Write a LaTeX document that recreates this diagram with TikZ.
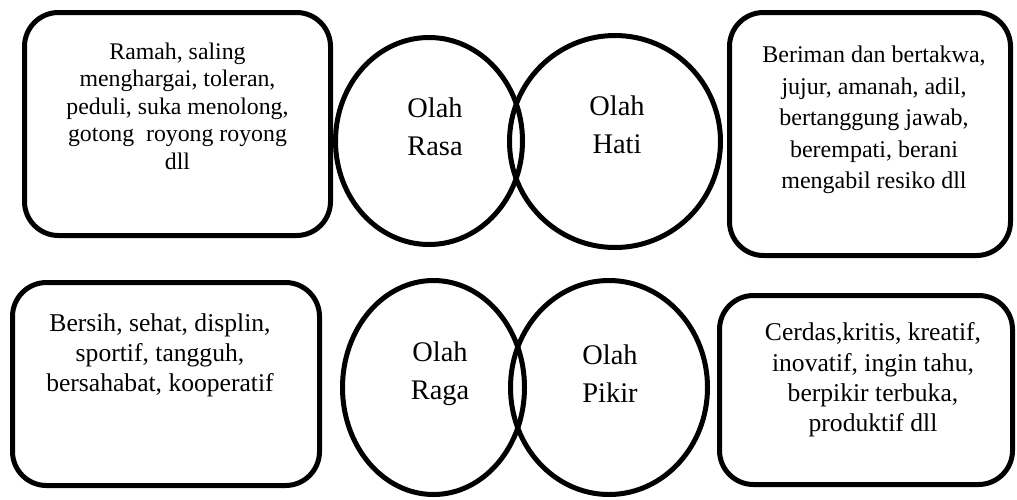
\documentclass[tikz,border=0pt]{standalone}
\usepackage{fontspec}
\setmainfont{Liberation Serif}
\usetikzlibrary{shapes.geometric}
\definecolor{GarisHitam}{HTML}{000000}
\tikzset{
    kotak/.style={draw=GarisHitam, line width=2.5pt, rounded corners=17pt, inner sep=0pt},
    bulat/.style={draw=GarisHitam, line width=2.5pt, ellipse, inner sep=0pt},
    isi/.style={align=center, inner sep=0pt, font=\fontsize{11.9}{13.75}\selectfont},
    isikanan/.style={isi, font=\fontsize{12}{15.8}\selectfont},
    isibawah/.style={isi, font=\fontsize{12.8}{15}\selectfont},
    isibawahkanan/.style={isi, font=\fontsize{12.8}{15.2}\selectfont},
    olah/.style={align=center, inner sep=0pt, font=\fontsize{14.2}{19}\selectfont}
}

\begin{document}
\begin{tikzpicture}[x=0.5pt, y=-0.5pt]
    % =========================================
    % 1. 画布 (Canvas)
    % =========================================
    \useasboundingbox (0,0) rectangle (1017,499);

    % =========================================
    % 2. 方框 (Boxes)
    % =========================================
    \foreach \id/\xa/\ya/\xb/\yb in {rasa/22/10/333/238, hati/727/10/1013/258,
                                     raga/10/280/322/488, pikir/717/293/1015/487} {
        \pgfmathsetmacro{\lebar}{(\xb-\xa-5)*0.5}
        \pgfmathsetmacro{\tinggi}{(\yb-\ya-5)*0.5}
        \node[kotak, minimum width=\lebar pt, minimum height=\tinggi pt]
            (K-\id) at ({(\xa+\xb)/2}, {(\ya+\yb)/2}) {};
    }

    % =========================================
    % 3. 圆圈 (Circles)
    % =========================================
    \foreach \id/\xa/\ya/\xb/\yb in {rasa/333/35/525/247, hati/507/33/723/250,
                                     raga/340/278/527/497, pikir/508/278/710/497} {
        \pgfmathsetmacro{\lebar}{(\xb-\xa-5)*0.5}
        \pgfmathsetmacro{\tinggi}{(\yb-\ya-5)*0.5}
        \node[bulat, minimum width=\lebar pt, minimum height=\tinggi pt]
            (O-\id) at ({(\xa+\xb)/2}, {(\ya+\yb)/2}) {};
    }

    % =========================================
    % 4. 文字 (Texts)
    % =========================================
    \node[olah] (L-rasa) at (435,127) {Olah\\Rasa};
    \node[olah] (L-hati) at (617,125) {Olah\\Hati};
    \node[olah] (L-raga) at (440,374) {Olah\\Raga};
    \node[olah] (L-pikir) at (610,374) {Olah\\Pikir};

    \node[isi] (T-rasa) at (177.5,106)
        {Ramah, saling\\menghargai, toleran,\\peduli, suka menolong,\\gotong\ \ royong royong\\dll};
    \node[isikanan] (T-hati) at (874,120)
        {Beriman dan bertakwa,\\jujur, amanah, adil,\\bertanggung jawab,\\berempati, berani\\mengabil resiko dll};
    \node[isibawah] (T-raga) at (160,355)
        {Bersih, sehat, displin,\\sportif, tangguh,\\bersahabat, kooperatif};
    \node[isibawahkanan] (T-pikir) at (873,380)
        {Cerdas,kritis, kreatif,\\inovatif, ingin tahu,\\berpikir terbuka,\\produktif dll};

\end{tikzpicture}
\end{document}
